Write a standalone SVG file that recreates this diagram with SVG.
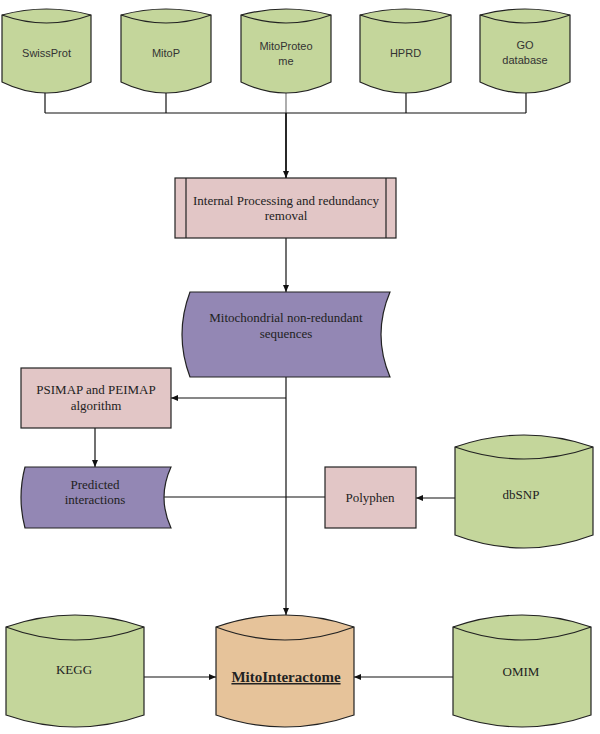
<svg xmlns="http://www.w3.org/2000/svg" width="600" height="734" viewBox="0 0 600 734">
<style>
.db{fill:#c4d69b;stroke:#222;stroke-width:1.2}
.out{fill:#e6c39a;stroke:#222;stroke-width:1.2}
.proc{fill:#e2c6c6;stroke:#222;stroke-width:1.2}
.data{fill:#9387b4;stroke:#222;stroke-width:1.2}
.inner{fill:none;stroke:#222;stroke-width:1.2}
.sans{font-family:"Liberation Sans",Arial,sans-serif;font-size:11px;fill:#333;text-anchor:middle}
.serif{font-family:"Liberation Serif","Times New Roman",serif;font-size:13px;fill:#222;text-anchor:middle}
.conn line{stroke:#111;stroke-width:1.2}
</style>
<defs>
<marker id="ah" markerWidth="8" markerHeight="8" refX="7" refY="4" orient="auto" markerUnits="userSpaceOnUse">
<path d="M0,1 L7,4 L0,7 Z" fill="#111"/>
</marker>
</defs>

<g id="connectors" class="conn">
<line x1="45" y1="93" x2="45" y2="113"/>
<line x1="166" y1="93" x2="166" y2="113"/>
<line x1="286" y1="93" x2="286" y2="113" style="stroke:#777"/>
<line x1="406" y1="93" x2="406" y2="113"/>
<line x1="526" y1="93" x2="526" y2="113"/>
<line x1="45" y1="113" x2="526" y2="113"/>
<line x1="286" y1="113" x2="286" y2="178" style="stroke-width:1.8" marker-end="url(#ah)"/>
<line x1="286" y1="238" x2="286" y2="292" marker-end="url(#ah)"/>
<line x1="286" y1="377" x2="286" y2="615" marker-end="url(#ah)"/>
<line x1="286" y1="398" x2="171" y2="398" marker-end="url(#ah)"/>
<line x1="95" y1="428" x2="95" y2="467" marker-end="url(#ah)"/>
<line x1="164" y1="497" x2="325" y2="497"/>
<line x1="455" y1="498" x2="416" y2="498" marker-end="url(#ah)"/>
<line x1="144" y1="677" x2="216" y2="677" marker-end="url(#ah)"/>
<line x1="453" y1="677" x2="354" y2="677" marker-end="url(#ah)"/>
</g>

<g id="swissprot">
<path class="db" d="M2,15 Q46.5,3 91,15 L91,82 Q46.5,104 2,82 Z"/>
<path class="inner" d="M2,15 Q46.5,31 91,15"/>
<text class="sans" x="46.5" y="57">SwissProt</text>
</g>
<g id="mitop">
<path class="db" d="M121,15 Q166,3 211,15 L211,82 Q166,104 121,82 Z"/>
<path class="inner" d="M121,15 Q166,31 211,15"/>
<text class="sans" x="166" y="57">MitoP</text>
</g>
<g id="mitoproteome">
<path class="db" d="M241,15 Q286,3 331,15 L331,82 Q286,104 241,82 Z"/>
<path class="inner" d="M241,15 Q286,31 331,15"/>
<text class="sans" x="286" y="50">MitoProteo</text>
<text class="sans" x="286" y="65">me</text>
</g>
<g id="hprd">
<path class="db" d="M360,15 Q405.5,3 451,15 L451,82 Q405.5,104 360,82 Z"/>
<path class="inner" d="M360,15 Q405.5,31 451,15"/>
<text class="sans" x="405.5" y="57">HPRD</text>
</g>
<g id="go">
<path class="db" d="M480,15 Q525,3 570,15 L570,82 Q525,104 480,82 Z"/>
<path class="inner" d="M480,15 Q525,31 570,15"/>
<text class="sans" x="525" y="49">GO</text>
<text class="sans" x="525" y="64">database</text>
</g>

<g id="processing">
<rect class="proc" x="175" y="178" width="221" height="60"/>
<line class="inner" x1="186" y1="178" x2="186" y2="238"/>
<line class="inner" x1="386" y1="178" x2="386" y2="238"/>
<text class="serif" x="286" y="205">Internal Processing and redundancy</text>
<text class="serif" x="286" y="220">removal</text>
</g>

<g id="mito-seq">
<path class="data" d="M190,292 L390,292 Q372,334.5 390,377 L190,377 Q174,334.5 190,292 Z"/>
<text class="serif" x="286" y="322">Mitochondrial non-redundant</text>
<text class="serif" x="286" y="338">sequences</text>
</g>

<g id="psimap">
<rect class="proc" x="21" y="368" width="150" height="60"/>
<text class="serif" x="96" y="394">PSIMAP and PEIMAP</text>
<text class="serif" x="96" y="410">algorithm</text>
</g>

<g id="predicted">
<path class="data" d="M25,467 L171,467 Q157,497.5 171,528 L25,528 Q17,497.5 25,467 Z"/>
<text class="serif" x="95" y="489">Predicted</text>
<text class="serif" x="95" y="504">interactions</text>
</g>

<g id="polyphen">
<rect class="proc" x="325" y="467" width="91" height="61"/>
<text class="serif" x="370" y="502">Polyphen</text>
</g>

<g id="dbsnp">
<path class="db" d="M455,447 Q524,423 593,447 L593,535 Q524,561 455,535 Z"/>
<path class="inner" d="M455,447 Q524,471 593,447"/>
<text class="serif" x="521" y="499">dbSNP</text>
</g>

<g id="kegg">
<path class="db" d="M6,627 Q75,603 144,627 L144,715 Q75,739 6,715 Z"/>
<path class="inner" d="M6,627 Q75,653 144,627"/>
<text class="serif" x="74" y="674">KEGG</text>
</g>

<g id="mitointeractome">
<path class="out" d="M216,627 Q285,603 354,627 L354,715 Q285,739 216,715 Z"/>
<path class="inner" d="M216,627 Q285,653 354,627"/>
<text class="serif" x="286" y="682" style="font-weight:bold;font-size:15px;text-decoration:underline">MitoInteractome</text>
</g>

<g id="omim">
<path class="db" d="M453,627 Q522,603 591,627 L591,715 Q522,739 453,715 Z"/>
<path class="inner" d="M453,627 Q522,653 591,627"/>
<text class="serif" x="521" y="676">OMIM</text>
</g>
</svg>
